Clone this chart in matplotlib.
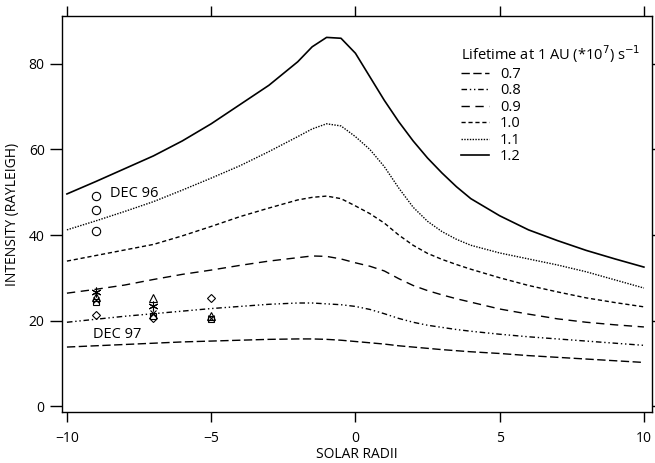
import numpy as np
import matplotlib
matplotlib.use('Agg')
import matplotlib.pyplot as plt

plt.rcParams['font.family'] = ['Open Sans', 'DejaVu Sans']
plt.rcParams['font.size'] = 10

# model curves, intensity vs solar radii for each lifetime
radii = [-10, -9, -8, -7, -6, -5, -4, -3, -2, -1.5, -1, -0.5, 0,
         0.5, 1, 1.5, 2, 2.5, 3, 3.5, 4, 5, 6, 7, 8, 9, 10]
life07 = [13.8, 14.1, 14.4, 14.7, 15.0, 15.2, 15.4, 15.6, 15.7, 15.7, 15.6, 15.4, 15.1,
          14.8, 14.5, 14.1, 13.8, 13.5, 13.2, 12.95, 12.7, 12.3, 11.8, 11.4, 11.0, 10.6, 10.2]
life08 = [19.6, 20.3, 21.0, 21.6, 22.2, 22.8, 23.3, 23.8, 24.1, 24.1, 23.9, 23.7, 23.3,
          22.6, 21.6, 20.5, 19.6, 18.9, 18.4, 17.9, 17.5, 16.8, 16.2, 15.7, 15.2, 14.7, 14.2]
life09 = [26.4, 27.3, 28.3, 29.6, 30.8, 31.8, 32.9, 33.9, 34.7, 35.1, 35.0, 34.4, 33.5,
          32.7, 31.6, 29.8, 28.2, 27.0, 26.0, 25.1, 24.3, 22.7, 21.5, 20.4, 19.6, 19.0, 18.5]
life10 = [33.9, 35.2, 36.5, 37.8, 39.8, 42.0, 44.3, 46.3, 48.2, 48.8, 49.1, 48.5, 46.8,
          45.0, 42.8, 40.0, 37.6, 35.7, 34.3, 33.1, 32.0, 30.0, 28.2, 26.7, 25.3, 24.2, 23.2]
life11 = [41.2, 43.3, 45.5, 47.8, 50.5, 53.3, 56.2, 59.5, 63.0, 64.8, 66.0, 65.5, 63.0,
          60.0, 56.0, 51.0, 46.5, 43.2, 40.8, 39.0, 37.6, 35.8, 34.4, 33.0, 31.4, 29.5, 27.6]
life12 = [49.6, 52.5, 55.5, 58.5, 62.0, 66.0, 70.5, 75.0, 80.5, 84.0, 86.2, 86.0, 82.5,
          77.0, 71.5, 66.5, 62.0, 58.0, 54.5, 51.3, 48.5, 44.5, 41.2, 38.7, 36.4, 34.4, 32.5]

# observations
dec96_x = [-9, -9, -9]
dec96_y = [49.2, 45.8, 41.0]
tri_x = [-9, -7, -5]
tri_y = [25.6, 25.3, 21.0]
star_x = [-9, -7]
star_y = [26.7, 23.3]
dia_x = [-9, -7, -5]
dia_y = [21.3, 20.6, 25.2]
sq_x = [-9, -7, -5]
sq_y = [24.3, 21.0, 20.3]
cross_x = [-9, -7, -5]
cross_y = [24.8, 21.8, 20.6]

fig = plt.figure(figsize=(6.55, 4.63), dpi=100)
ax = fig.add_axes([0.0947, 0.110, 0.9007, 0.8554])

lw = 1.0
ax.plot(radii, life07, color='black', lw=lw, dashes=(6, 2.5), label='0.7')
ax.plot(radii, life08, color='black', lw=lw, dashes=(4, 2, 1, 2, 1, 2), label='0.8')
ax.plot(radii, life09, color='black', lw=lw, dashes=(6, 4), label='0.9')
ax.plot(radii, life10, color='black', lw=lw, dashes=(3, 2), label='1.0')
ax.plot(radii, life11, color='black', lw=lw, dashes=(1, 1), label='1.1')
ax.plot(radii, life12, color='black', lw=1.2, label='1.2')

mk = dict(color='black', linestyle='none', markerfacecolor='none', markeredgewidth=0.8)
ax.plot(dec96_x, dec96_y, marker='o', markersize=6, **mk)
ax.plot(tri_x, tri_y, marker='^', markersize=6, **mk)
ax.plot(star_x, star_y, marker=(6, 2, 0), markersize=7, **mk)
ax.plot(dia_x, dia_y, marker='D', markersize=4.5, **mk)
ax.plot(sq_x, sq_y, marker='s', markersize=4.5, **mk)
ax.plot(cross_x, cross_y, marker='x', markersize=5, **mk)

ax.text(-8.5, 49.6, 'DEC 96', fontsize=10.5, va='center')
ax.text(-9.1, 16.8, 'DEC 97', fontsize=10.5, va='center')

ax.set_xlim(-10.17, 10.28)
ax.set_ylim(-1.4, 91.2)
ax.set_xticks([-10, -5, 0, 5, 10])
ax.set_yticks([0, 20, 40, 60, 80])
ax.tick_params(axis='x', direction='out', length=7.5, width=1, top=True, pad=6)
ax.tick_params(axis='y', direction='out', length=9, width=1, right=True)
for s in ax.spines.values():
    s.set_linewidth(1.0)

ax.set_xlabel('SOLAR RADII', fontsize=10, labelpad=1)
ax.set_ylabel('INTENSITY (RAYLEIGH)', fontsize=10, labelpad=6)

leg = ax.legend(title='Lifetime at 1 AU (*10$^7$) s$^{-1}$', loc='upper left',
                bbox_to_anchor=(0.667, 0.945), frameon=False, handlelength=1.9,
                handletextpad=0.75, labelspacing=0.1, borderaxespad=0,
                fontsize=10.5, title_fontsize=10.5)
leg._legend_box.align = 'left'

fig.savefig('out.png', dpi=100)
